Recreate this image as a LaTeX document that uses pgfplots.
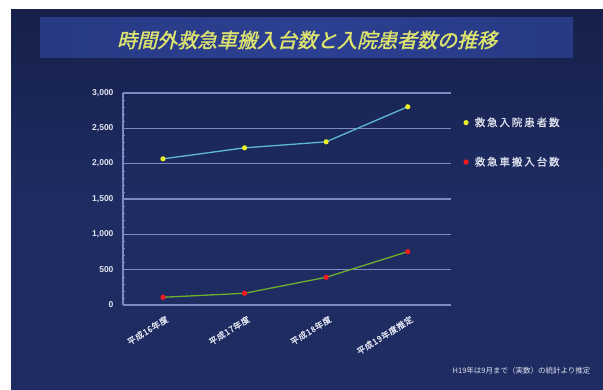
\documentclass[border=0pt]{standalone}
\usepackage{fontspec}
\usepackage{pgfplots}
\pgfplotsset{compat=1.18}
\setmainfont{Liberation Sans}
\newfontfamily\cjk{Noto Sans CJK JP}
\newfontfamily\cjkt[FakeSlant=0.25, FakeBold=1.5]{Noto Sans CJK JP}
\newfontfamily\cjkl[LetterSpace=18, FakeBold=1]{Noto Sans CJK JP}
\newfontfamily\cjkx[LetterSpace=6, FakeBold=1]{Noto Sans CJK JP}
\definecolor{bgdark}{RGB}{22,32,74}
\definecolor{bgmid}{RGB}{30,44,98}
\definecolor{banner}{RGB}{44,64,146}
\definecolor{titlecol}{RGB}{222,228,110}
\definecolor{gridcol}{RGB}{125,138,196}
\definecolor{txtcol}{RGB}{225,228,240}
\definecolor{line1}{RGB}{95,185,210}
\definecolor{mark1}{RGB}{235,240,40}
\definecolor{line2}{RGB}{110,175,45}
\definecolor{mark2}{RGB}{250,25,30}
\begin{document}
\begin{tikzpicture}[x=1pt,y=1pt]
\useasboundingbox (0,0) rectangle (603,390);
\fill[white] (0,0) rectangle (603,390);
\shade[top color=bgdark, bottom color=bgmid, middle color=bgmid] (11,0) rectangle (603,380);
\shade[left color=banner!80!bgdark, right color=banner!80!bgdark, middle color=banner] (40,332) rectangle (573,372);
\node[font=\cjkt\fontsize{20}{22}\selectfont, text=titlecol] at (307,350) {時間外救急車搬入台数と入院患者数の推移};
\node[anchor=east, font=\cjk\fontsize{7.5}{9}\selectfont, text=txtcol] at (594,19) {H19年は9月まで（実数）の統計より推定};
\begin{axis}[
  at={(123pt,85pt)}, anchor=south west,
  scale only axis, width=328pt, height=212pt,
  xmin=-0.49, xmax=3.53, ymin=0, ymax=3000,
  axis lines*=left,
  axis line style={gridcol, line width=1.2pt},
  ytick={0,500,...,3000},
  xtick={0,1,2,3},
  xticklabels={平成16年度,平成17年度,平成18年度,平成19年度推定},
  ymajorgrids,
  grid style={gridcol, line width=1.4pt},
  major tick length=0pt,
  minor y tick num=4,
  minor tick length=2pt,
  minor tick style={gridcol},
  yticklabel style={font=\bfseries\fontsize{8.5}{10}\selectfont, text=txtcol, xshift=-6pt},
  /pgf/number format/assume math mode=true,
  /pgf/number format/1000 sep={,},
  scaled y ticks=false,
  xticklabel style={font=\cjkx\fontsize{8.5}{10}\selectfont, text=txtcol, rotate=32, anchor=north east, yshift=-6pt},
  legend style={at={(1.025,0.895)}, anchor=north west, draw=none, fill=none,
    font=\cjkl\fontsize{10.5}{12}\selectfont, text=txtcol, row sep=25pt, inner sep=0pt},
  legend cell align=left,
  legend image code/.code={\draw[mark repeat=2,mark phase=2,#1, draw opacity=0] plot coordinates {(0pt,0pt)(6pt,0pt)(12pt,0pt)};},
]
\addplot[line1, line width=1.3pt, mark=*, mark size=2.6pt, mark options={draw=none, fill=mark1, draw opacity=0, fill opacity=1}] coordinates {(0,2068) (1,2224) (2,2309) (3,2805)};
\addlegendentry{救急入院患者数}
\addplot[line2, line width=1.3pt, mark=*, mark size=2.6pt, mark options={draw=none, fill=mark2, draw opacity=0, fill opacity=1}] coordinates {(0,109) (1,166) (2,392) (3,755)};
\addlegendentry{救急車搬入台数}
\end{axis}
\end{tikzpicture}
\end{document}
